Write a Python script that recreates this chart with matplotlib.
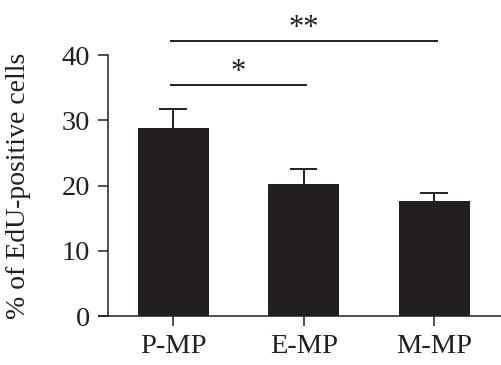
import matplotlib
matplotlib.use("Agg")
import matplotlib.pyplot as plt

categories = ["P-MP", "E-MP", "M-MP"]
means = [28.8, 20.2, 17.7]
errors = [2.9, 2.3, 1.1]
yticks = [0, 10, 20, 30, 40]
# significance comparisons: (start index, end index, label, line height)
comparisons = [(0, 1, "*", 35.4), (0, 2, "**", 42.1)]

plt.rcParams['font.family'] = ['Liberation Serif', 'DejaVu Serif']

fig = plt.figure(figsize=(5.02, 3.65), dpi=100)
ax = fig.add_axes([0.215, 0.134, 0.785, 0.715])

color = "#231f20"
x = list(range(len(categories)))
ax.bar(x, means, width=0.545, color=color, linewidth=0, zorder=2)
tops = [m + e for m, e in zip(means, errors)]
ax.vlines(x, means, tops, color=color, lw=1.4, zorder=1)
ax.hlines(tops, [xi - 0.105 for xi in x], [xi + 0.105 for xi in x], color=color, lw=1.4, zorder=1)

ax.set_xlim(-0.5, 2.52)
ax.set_ylim(0, 40)
ax.set_yticks(yticks)
ax.set_xticks(x)
ax.set_xticklabels(categories)
for s in ["top", "right"]:
    ax.spines[s].set_visible(False)
for s in ["left", "bottom"]:
    ax.spines[s].set_linewidth(1.1)
    ax.spines[s].set_color(color)
ax.spines["bottom"].set_zorder(3)
# extend x-axis line to the left of the y-axis
ax.plot([-0.025, 0], [0, 0], transform=ax.transAxes, color=color, lw=1.1, clip_on=False,
        solid_capstyle='butt')

ax.tick_params(axis='both', length=7, width=1.1, color=color, labelsize=20.5,
               labelcolor=color)
ax.tick_params(axis='y', pad=6)
ax.tick_params(axis='x', pad=6)
ax.set_ylabel("% of EdU-positive cells", fontsize=20, color=color, labelpad=22)

for i, j, lab, h in comparisons:
    ax.plot([i - 0.015, j + 0.02], [h, h], color=color, lw=1.4, clip_on=False)
    ax.text((i + j) / 2, h + 2.0, lab, ha='center', va='center', fontsize=22,
            color=color, clip_on=False)

fig.savefig("out.png", dpi=100)
